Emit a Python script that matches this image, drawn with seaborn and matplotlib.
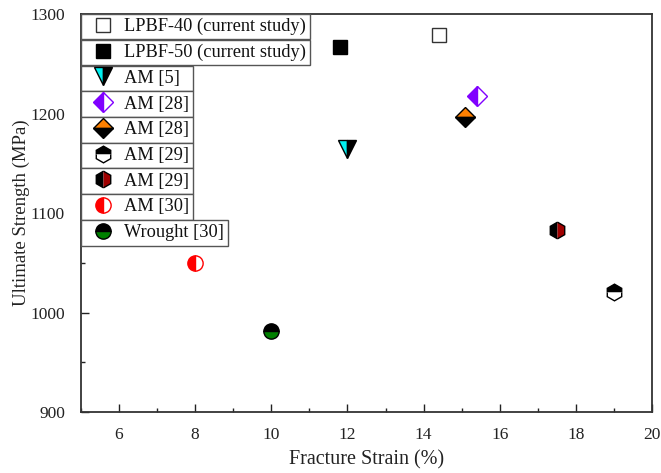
import matplotlib
matplotlib.use("Agg")
import matplotlib.pyplot as plt
from matplotlib.patches import Rectangle
from matplotlib.ticker import MultipleLocator
import seaborn as sns

# Fracture strain (%) and ultimate tensile strength (MPa) per source
labels = ["LPBF-40 (current study)", "LPBF-50 (current study)", "AM [5]", "AM [28]",
          "AM [28]", "AM [29]", "AM [29]", "AM [30]", "Wrought [30]"]
strain = [14.4, 11.8, 12.0, 15.4, 15.1, 19.0, 17.5, 8.0, 10.0]
strength = [1279, 1267, 1164, 1218, 1197, 1021, 1083, 1050, 981]

x_ticks = [6, 8, 10, 12, 14, 16, 18, 20]
y_ticks = [900, 1000, 1100, 1200, 1300]

# marker styling: (marker, size, fillstyle, face, alt face, edge)
styles = [
    ("s", 10.0, "full", "white", "white", "#333333"),
    ("s", 10.0, "full", "black", "black", "black"),
    ("v", 13.0, "left", "#00f0f0", "black", "black"),
    ("D", 10.0, "left", "#8000ff", "white", "#8000ff"),
    ("D", 10.0, "top", "#ff8000", "black", "black"),
    ("h", 12.0, "top", "black", "white", "black"),
    ("h", 12.0, "left", "black", "#a00000", "black"),
    ("o", 11.0, "left", "#ff0000", "white", "#ff0000"),
    ("o", 11.0, "top", "black", "#008000", "black"),
]

sns.set_theme(style="ticks")
plt.rcParams["font.family"] = ["Liberation Serif", "DejaVu Serif"]
plt.rcParams["xtick.direction"] = "in"
plt.rcParams["ytick.direction"] = "in"

fig = plt.figure(figsize=(6.61, 4.73), dpi=100)
ax = fig.add_axes([0.1225, 0.129, 0.8639, 0.841])

handles = []
for lab, xs, ys, (mk, ms, fs, fc, fca, ec) in zip(labels, strain, strength, styles):
    sns.lineplot(x=[xs], y=[ys], ax=ax, marker=mk, markersize=ms, linestyle="",
                 fillstyle=fs, markerfacecolor=fc, markerfacecoloralt=fca,
                 markeredgecolor=ec, markeredgewidth=1.0, color=ec,
                 errorbar=None, legend=False)
    line = ax.get_lines()[-1]
    line.set_label(lab)
    line.set_zorder(3)
    handles.append(line)

ax.set_xlim(5, 20)
ax.set_ylim(900, 1300)
ax.set_xticks(x_ticks)
ax.set_yticks(y_ticks)
ax.xaxis.set_minor_locator(MultipleLocator(1))
ax.yaxis.set_minor_locator(MultipleLocator(50))
ax.tick_params(axis="both", which="major", length=6, width=1.0, labelsize=12.5,
               color="#222222", labelcolor="#222222")
ax.tick_params(axis="both", which="minor", length=3, width=1.0, color="#222222")
ax.tick_params(axis="x", pad=11)
ax.tick_params(axis="y", pad=11.5)

for sp in ax.spines.values():
    sp.set_visible(True)
    sp.set_color("#333333")
    sp.set_linewidth(1.3)

ax.set_xlabel("Fracture Strain (%)", fontsize=14.5, color="#222222", labelpad=5)
ax.set_ylabel("Ultimate Strength (MPa)", fontsize=13.5, color="#222222", labelpad=0.5)

leg = ax.legend(handles=handles, loc="upper left", bbox_to_anchor=(0, 1),
                frameon=False, fontsize=13.2, borderaxespad=0, borderpad=0.2,
                handlelength=2.04, handletextpad=0.125, labelspacing=0.475,
                numpoints=1)
leg.set_zorder(6)
for t in leg.get_texts():
    t.set_color("#111111")

# individual boxes around each legend entry
fig.canvas.draw()
renderer = fig.canvas.get_renderer()
inv = ax.transAxes.inverted()
ax_bb = ax.get_window_extent(renderer)
texts = leg.get_texts()
centers = []
rights = []
for t in texts:
    bb = t.get_window_extent(renderer)
    centers.append(0.5 * (bb.y0 + bb.y1))
    rights.append(bb.x1)
pitch = (centers[0] - centers[-1]) / (len(centers) - 1)
min_right = max(r for r, lab in zip(rights, labels) if lab.startswith("AM"))
for c, r, lab in zip(centers, rights, labels):
    right = max(r, min_right if lab.startswith("AM") else r) + 4
    (x0, y0) = inv.transform((ax_bb.x0, c - pitch / 2))
    (x1, y1) = inv.transform((right, c + pitch / 2))
    ax.add_patch(Rectangle((x0, y0), x1 - x0, y1 - y0, transform=ax.transAxes,
                           facecolor="white", edgecolor="#555555", linewidth=1.0,
                           zorder=5, clip_on=False))

fig.savefig("out.png", dpi=100)
